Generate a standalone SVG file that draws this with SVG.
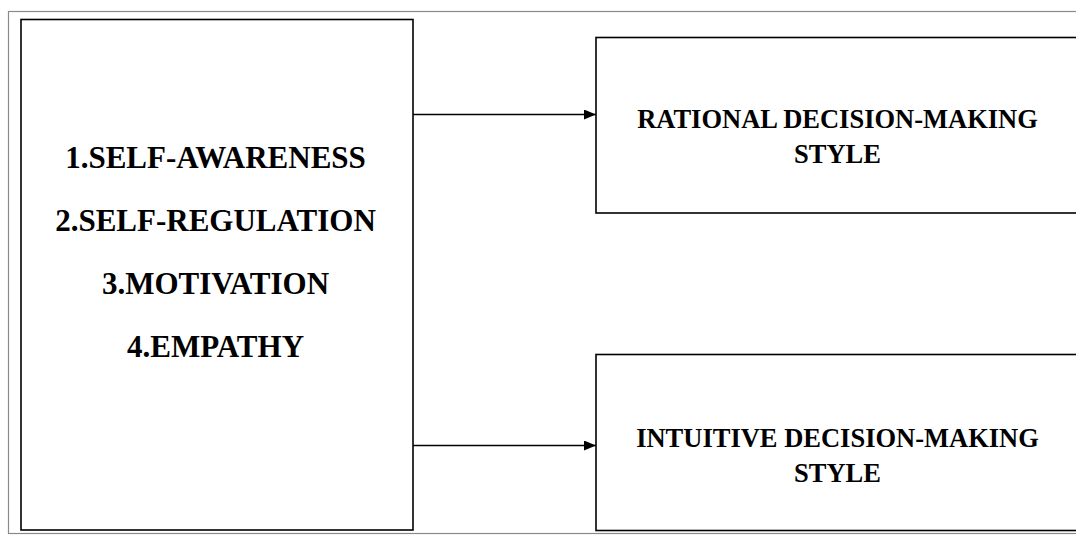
<svg xmlns="http://www.w3.org/2000/svg" width="1076" height="536" viewBox="0 0 1076 536">
  <defs>
    <marker id="arrow" markerWidth="12" markerHeight="10" refX="12" refY="5" orient="auto" markerUnits="userSpaceOnUse">
      <path d="M0,0 L12,5 L0,10 Z" fill="#000"/>
    </marker>
    <style>
      .frame { fill: none; stroke: #8a8a8a; stroke-width: 1.2; }
      .box { fill: #fff; stroke: #000; stroke-width: 1.6; }
      .edge { fill: none; stroke: #000; stroke-width: 1.3; marker-end: url(#arrow); }
      .lt { font-family: "Liberation Serif", "Times New Roman", serif; font-weight: bold; font-size: 31px; fill: #000; text-anchor: middle; }
      .rt { font-family: "Liberation Serif", "Times New Roman", serif; font-weight: bold; font-size: 26.5px; fill: #000; text-anchor: middle; }
    </style>
  </defs>
  <rect x="0" y="0" width="1076" height="536" fill="#fff"/>
  <rect class="frame" x="8.5" y="11.5" width="1080" height="522"/>

  <g id="dimensions">
    <rect class="box" x="21" y="19.5" width="392" height="510.5"/>
    <text class="lt" x="215.5" y="167.5">1.SELF-AWARENESS</text>
    <text class="lt" x="215.5" y="230.5">2.SELF-REGULATION</text>
    <text class="lt" x="215.5" y="294">3.MOTIVATION</text>
    <text class="lt" x="215.5" y="357">4.EMPATHY</text>
  </g>

  <g id="rational">
    <rect class="box" x="596" y="37.5" width="490" height="175.5"/>
    <text class="rt" x="837.5" y="128">RATIONAL DECISION-MAKING</text>
    <text class="rt" x="837.5" y="163">STYLE</text>
  </g>

  <g id="intuitive">
    <rect class="box" x="596" y="354.5" width="490" height="176"/>
    <text class="rt" x="837.5" y="447">INTUITIVE DECISION-MAKING</text>
    <text class="rt" x="837.5" y="482">STYLE</text>
  </g>

  <g id="connectors">
    <line class="edge" x1="413" y1="114.5" x2="596" y2="114.5"/>
    <line class="edge" x1="413" y1="445.5" x2="596" y2="445.5"/>
  </g>
</svg>
